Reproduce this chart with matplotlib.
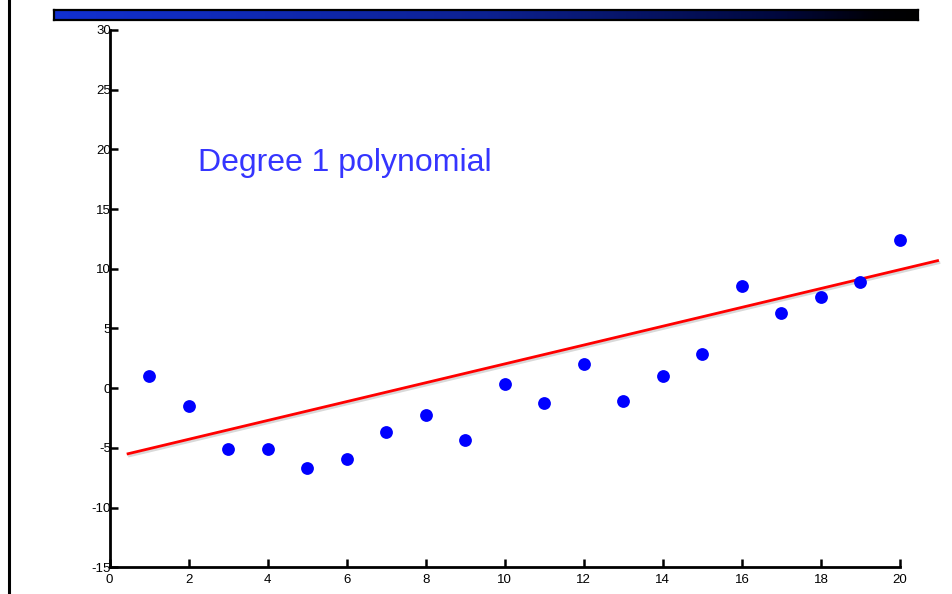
import numpy as np
import matplotlib
matplotlib.use("Agg")
import matplotlib.pyplot as plt
from matplotlib.lines import Line2D
import matplotlib.patheffects as pe

plt.rcParams['font.family'] = ['Liberation Sans', 'DejaVu Sans']
plt.rcParams['axes.unicode_minus'] = False

x_vals = [1, 2, 3, 4, 5, 6, 7, 8, 9, 10, 11, 12, 13, 14, 15, 16, 17, 18, 19, 20]
y_vals = [1.02, -1.47, -5.07, -5.07, -6.71, -5.9, -3.67, -2.24, -4.34, 0.35,
          -1.24, 2.03, -1.07, 1.02, 2.86, 8.56, 6.3, 7.64, 8.9, 12.41]
fit_x = [0.47, 20.95]
fit_y = [-5.49, 10.68]
x_ticks = [0, 2, 4, 6, 8, 10, 12, 14, 16, 18, 20]
y_ticks = [-15, -10, -5, 0, 5, 10, 15, 20, 25, 30]
title_text = "Degree 1 polynomial"

W, H = 952, 594
fig = plt.figure(figsize=(W / 100, H / 100), dpi=100)

# left vertical rule
fig.add_artist(Line2D([8.5 / W, 8.5 / W], [0, 1], transform=fig.transFigure,
                      color='black', lw=2.2))

# top gradient bar
bar_ax = fig.add_axes([54 / W, 1 - 20 / H, (918 - 54) / W, 10 / H])
grad = np.linspace(0, 1, 512)
stops = [0, 0.5, 0.84, 0.95, 1]
r = np.interp(grad, stops, [0.07, 0.05, 0.0, 0.0, 0.0])
g = np.interp(grad, stops, [0.19, 0.13, 0.03, 0.0, 0.0])
b = np.interp(grad, stops, [0.82, 0.57, 0.24, 0.03, 0.0])
img = np.stack([r, g, b], axis=-1)[None, :, :]
bar_ax.imshow(img, aspect='auto', extent=[0, 1, 0, 1])
bar_ax.set_xticks([])
bar_ax.set_yticks([])
for s in bar_ax.spines.values():
    s.set_linewidth(1.6)
    s.set_color('black')

ax = fig.add_axes([109.5 / W, 1 - 567.3 / H, (900 - 109.5) / W, (567.3 - 30) / H])
ax.set_xlim(0, 20)
ax.set_ylim(-15, 30)
ax.spines['top'].set_visible(False)
ax.spines['right'].set_visible(False)
for s in ['left', 'bottom']:
    ax.spines[s].set_linewidth(2)
ax.set_xticks(x_ticks)
ax.set_yticks(y_ticks)
ax.tick_params(direction='in', length=5.5, width=1.8, labelsize=9.5)
ax.tick_params(axis='x', pad=5)
ax.tick_params(axis='y', pad=-1)

ax.plot(fit_x, fit_y, color='red', lw=2, clip_on=False, zorder=2,
        path_effects=[pe.SimpleLineShadow(offset=(1, -1.5), alpha=0.15), pe.Normal()])
ax.scatter(x_vals, y_vals, s=85, color='#0000ff', zorder=3, clip_on=False, linewidths=0)

ax.text(2.24, 18.85, title_text, color='#3535ff', fontsize=23, va='center', ha='left')

fig.savefig('out.png', dpi=100)
